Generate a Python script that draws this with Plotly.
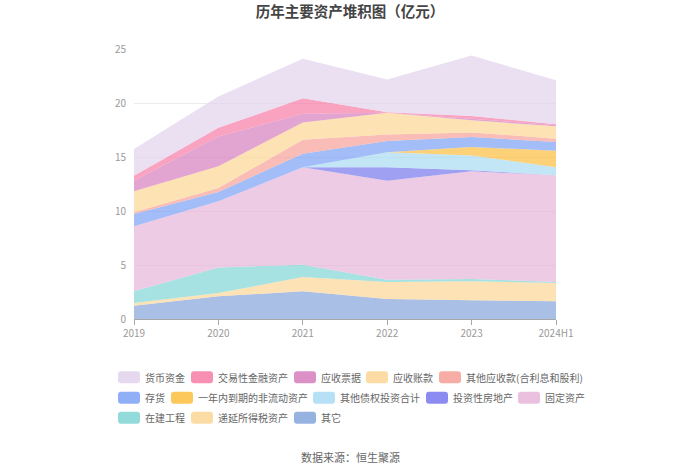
import plotly.graph_objects as go

# ---------------- data (亿元) ----------------
years = ["2019", "2020", "2021", "2022", "2023", "2024H1"]

qita        = [1.23, 2.10, 2.56, 1.85, 1.73, 1.64]   # 其它
diyan       = [0.25, 0.30, 1.33, 1.58, 1.76, 1.69]   # 递延所得税资产
zaijian     = [1.08, 2.38, 1.14, 0.21, 0.21, 0.10]   # 在建工程
guding      = [6.02, 6.12, 9.01, 9.16, 9.97, 9.87]   # 固定资产
touzifang   = [0.00, 0.00, 0.00, 1.24, 0.10, 0.00]   # 投资性房地产
qitazhaiquan= [0.00, 0.00, 0.00, 1.39, 1.38, 0.74]   # 其他债权投资合计
yinian      = [0.00, 0.00, 0.00, 0.02, 0.78, 1.55]   # 一年内到期的非流动资产
cunhuo      = [1.14, 0.86, 1.26, 1.02, 0.92, 0.80]   # 存货
qitayingshou= [0.16, 0.37, 1.30, 0.62, 0.43, 0.31]   # 其他应收款(合利息和股利)
yingshouzk  = [1.94, 2.01, 1.60, 2.00, 1.12, 1.14]   # 应收账款
yingshoupj  = [0.99, 2.76, 0.80, 0.00, 0.15, 0.10]   # 应收票据
jiaoyixing  = [0.45, 0.80, 1.43, 0.06, 0.25, 0.10]   # 交易性金融资产
huobi       = [2.48, 2.90, 3.67, 3.03, 5.59, 4.07]   # 货币资金

# stacking order bottom -> top: (name, values, base colour)
series = [
    ("其它", qita, (132, 164, 218)),
    ("递延所得税资产", diyan, (252, 214, 149)),
    ("在建工程", zaijian, (128, 213, 213)),
    ("固定资产", guding, (231, 181, 216)),
    ("投资性房地产", touzifang, (119, 119, 238)),
    ("其他债权投资合计", qitazhaiquan, (169, 219, 244)),
    ("一年内到期的非流动资产", yinian, (251, 190, 62)),
    ("存货", cunhuo, (124, 161, 245)),
    ("其他应收款(合利息和股利)", qitayingshou, (246, 159, 151)),
    ("应收账款", yingshouzk, (252, 214, 148)),
    ("应收票据", yingshoupj, (214, 126, 188)),
    ("交易性金融资产", jiaoyixing, (246, 124, 166)),
    ("货币资金", huobi, (226, 210, 236)),
]
colour_of = {n: c for n, _, c in series}

# legend layout (reference order, rows)
legend_rows = [
    ["货币资金", "交易性金融资产", "应收票据", "应收账款", "其他应收款(合利息和股利)"],
    ["存货", "一年内到期的非流动资产", "其他债权投资合计", "投资性房地产", "固定资产"],
    ["在建工程", "递延所得税资产", "其它"],
]
legend_lefts = [
    [118, 191, 294, 366, 439],
    [118, 171, 313, 426, 518],
    [118, 191, 294],
]
legend_ys = [377.5, 398, 418]

FONT = "Noto Sans CJK SC"
W, H = 700, 474
PX_L, PX_R, PX_T, PX_B = 134, 556, 49.3, 319.3   # plot area in window pixels
L, R, T, B = PX_L, W - PX_R, PX_T, H - PX_B
PW, PH = PX_R - PX_L, PX_B - PX_T


def px2x(px):
    return (px - PX_L) / PW


def px2y(py):
    return (PX_B - py) / PH


fig = go.Figure()
for name, vals, (r, g, b) in series:
    fig.add_trace(go.Scatter(
        x=years, y=vals, name=name, mode="lines",
        stackgroup="one", line=dict(width=0, color=f"rgb({r},{g},{b})"),
        fillcolor=f"rgba({r},{g},{b},0.7)",
        hovertemplate="%{x}<br>" + name + ": %{y:.2f}亿元<extra></extra>",
    ))

shapes = []
annotations = []
for row, lefts, py in zip(legend_rows, legend_lefts, legend_ys):
    for name, lx in zip(row, lefts):
        r, g, b = colour_of[name]
        cx = lx + 11
        shapes.append(dict(
            type="path", xref="paper", yref="paper",
            xsizemode="pixel", ysizemode="pixel",
            xanchor=px2x(cx), yanchor=px2y(py),
            path="M -8,-6 L 8,-6 Q 11,-6 11,-3 L 11,3 Q 11,6 8,6 L -8,6 Q -11,6 -11,3 L -11,-3 Q -11,-6 -8,-6 Z",
            fillcolor=f"rgba({r},{g},{b},0.85)", line=dict(width=0),
        ))
        annotations.append(dict(
            xref="paper", yref="paper", x=px2x(lx + 25), y=px2y(py),
            xanchor="left", yanchor="middle", showarrow=False,
            text=name, font=dict(family=FONT, size=10, color="#666666"),
        ))

annotations.append(dict(
    xref="paper", yref="paper", x=px2x(350), y=px2y(457),
    xanchor="center", yanchor="middle", showarrow=False,
    text="数据来源：恒生聚源", font=dict(family=FONT, size=11, color="#666666"),
))

fig.update_layout(
    width=W, height=H,
    margin=dict(l=L, r=R, t=T, b=B, pad=0),
    paper_bgcolor="white", plot_bgcolor="white",
    showlegend=False,
    title=dict(text="<b>历年主要资产堆积图（亿元）</b>", x=0.5, xanchor="center",
               y=1 - 12 / H, yanchor="middle", yref="container",
               font=dict(family=FONT, size=14.5, color="#444444")),
    font=dict(family=FONT, color="#999999", size=10),
    xaxis=dict(type="category", range=[0, 5], showgrid=False, zeroline=False,
               showline=True, linecolor="#a8a8a8", linewidth=1,
               ticks="outside", ticklen=5, tickcolor="#a8a8a8",
               tickfont=dict(family=FONT, size=10, color="#999999")),
    yaxis=dict(range=[0, 25], tickvals=[0, 5, 10, 15, 20, 25], showgrid=True,
               gridcolor="#ececec", gridwidth=1, zeroline=False, showline=False,
               ticks="", ticklabelstandoff=7,
               tickfont=dict(family=FONT, size=10, color="#999999")),
    shapes=shapes, annotations=annotations,
)

# remove the browser's default 8px body margin so the figure sits at the window origin
fig.write_html("out.html", config={"displayModeBar": False},
               post_script="document.body.style.margin='0';")
